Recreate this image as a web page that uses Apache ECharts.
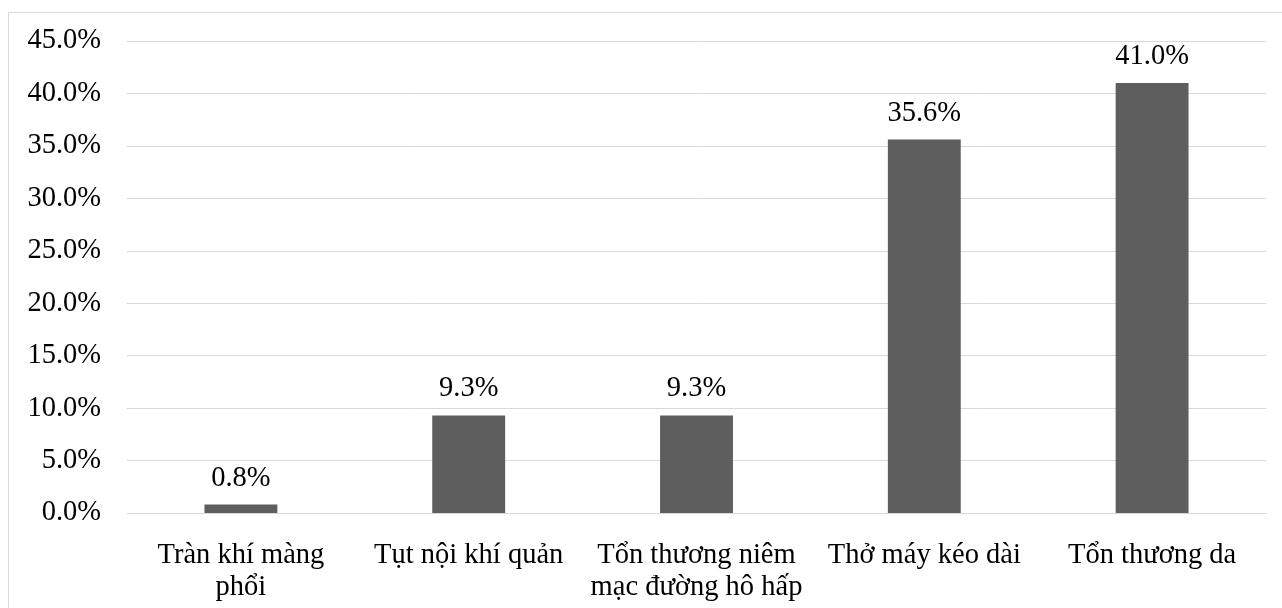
<!doctype html>
<html lang="vi">
<head>
    <meta charset="utf-8">
    <title>Biến chứng</title>
    <script src="https://cdn.jsdelivr.net/npm/echarts@6/dist/echarts.min.js"></script>
    <style>
        body { margin: 0; background: #fff; }
        #frame { position: absolute; left: 8px; top: 12px; width: 1290px; height: 600px; border: 1px solid #d9d9d9; }
        #main { position: absolute; left: 0; top: 0; width: 1282px; height: 608px; }
    </style>
</head>
<body>
    <div id="frame"></div>
    <div id="main"></div>
    <script>
        // dữ liệu (%)
        var categories = ['Tràn khí màng\nphổi', 'Tụt nội khí quản', 'Tổn thương niêm\nmạc đường hô hấp', 'Thở máy kéo dài', 'Tổn thương da'];
        var values = [0.8, 9.3, 9.3, 35.6, 41.0];
        var yTicks = [0, 5, 10, 15, 20, 25, 30, 35, 40, 45];

        var font = 'Liberation Serif, Times New Roman, serif';
        var myChart = echarts.init(document.getElementById('main'));

        var option = {
            animation: false,
            grid: { left: 127, right: 16, top: 41, bottom: 95, containLabel: false },
            xAxis: {
                type: 'category',
                data: categories,
                axisLine: { lineStyle: { color: '#d9d9d9', width: 1 } },
                axisTick: { show: false },
                axisLabel: {
                    interval: 0,
                    margin: 27,
                    color: '#000',
                    fontFamily: font,
                    fontSize: 28.5,
                    lineHeight: 32
                }
            },
            yAxis: {
                type: 'value',
                min: yTicks[0],
                max: yTicks[yTicks.length - 1],
                interval: 5,
                axisLine: { show: false },
                axisTick: { show: false },
                splitLine: { lineStyle: { color: '#d9d9d9', width: 1 } },
                axisLabel: {
                    margin: 26,
                    color: '#000',
                    fontFamily: font,
                    fontSize: 28.5,
                    formatter: function (v) { return v.toFixed(1) + '%'; }
                }
            },
            series: [{
                type: 'bar',
                data: values,
                barCategoryGap: '68%',
                itemStyle: { color: '#5e5e5e' },
                label: {
                    show: true,
                    position: 'top',
                    distance: 12,
                    color: '#000',
                    fontFamily: font,
                    fontSize: 28.5,
                    formatter: function (p) { return p.value.toFixed(1) + '%'; }
                }
            }]
        };

        myChart.setOption(option);
    </script>
</body>
</html>
